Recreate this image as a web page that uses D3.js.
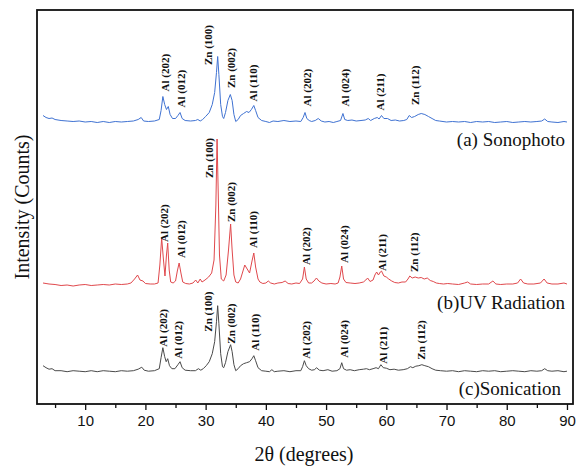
<!DOCTYPE html>
<html>
<head>
<meta charset="utf-8">
<script src="https://cdn.jsdelivr.net/npm/d3@7/dist/d3.min.js"></script>
<style>
  body { margin: 0; background: #fff; }
  svg { display: block; }
</style>
</head>
<body>
<div id="chart"></div>
<script>
// XRD patterns, 2theta in degrees, intensity in arbitrary counts above each baseline
var sonophoto = [[3.0,7],[3.5,5],[4,4],[4.5,4.5],[5,3],[6,2],[7,1.5],[8,1],[9,1.5],[10,0.5],[11,1],[12,0],[13,1],[14,0],[15,1],[16,0.5],[17,1],[18,1.5],[18.8,3],[19.3,5],[19.7,1.5],[20.5,1],[21.5,1.5],[22.3,3],[22.6,12],[22.9,26],[23.2,18],[23.5,13],[23.8,16],[24.1,8],[24.5,4],[25.0,4],[25.4,7],[25.75,10],[26.1,4],[26.6,2],[27.5,1.5],[28.3,2],[28.7,3],[29.1,1.5],[29.5,3],[30.0,6],[30.6,10],[31.1,18],[31.5,30],[31.8,50],[32.0,66],[32.2,48],[32.5,18],[32.8,6],[33.0,4],[33.3,10],[33.7,22],[34.1,28],[34.4,22],[34.7,8],[35.0,1],[35.4,3],[35.8,7],[36.3,9],[36.8,11],[37.2,10],[37.6,13],[38.0,17],[38.3,12],[38.7,5],[39.3,2],[40,1],[40.6,0],[41.2,1.5],[42,1],[43,2],[44,1],[45,1.5],[45.8,1],[46.2,5],[46.5,10],[46.8,4],[47.2,2],[47.6,1],[48.2,2],[48.7,4],[49.2,1.5],[49.8,0.5],[50.5,1],[51.2,0],[51.8,1],[52.4,2],[52.8,9],[53.1,3],[53.6,2],[54.3,2.5],[55,1.5],[55.8,2],[56.5,2.5],[57.0,4],[57.4,2],[58.0,4],[58.5,5],[58.8,3.5],[59.2,7],[59.6,4],[60.2,4],[60.8,2],[61.5,2.5],[62.2,1.5],[62.9,2],[63.4,3],[63.8,7],[64.2,5],[64.7,6],[65.3,8],[65.8,9],[66.4,8],[67.0,6],[67.6,4],[68.2,2],[68.8,1.5],[70,0.5],[71,1],[72,0.5],[73,1],[74,0],[75,1],[76,0.5],[77,1],[78,0],[79,0.5],[80,1],[81,0],[82,0.5],[83,1],[84,0.5],[85,1],[85.8,1.5],[86.3,3.5],[86.8,1],[87.5,0.5],[88.5,0],[89.5,1],[90,0.5]];

var uvRadiation = [[3.0,2],[3.5,1.5],[4,1],[5,0.5],[6,-0.5],[7,0],[8,-1],[9,0],[10,0.5],[11,-0.5],[12,0],[13,0.5],[14,0],[15,1],[16,0.5],[17,1],[17.6,2],[18.2,6],[18.7,10],[19.1,5],[19.6,4],[20.0,1.5],[20.8,1],[21.5,1],[22.1,2],[22.4,20],[22.7,47],[23.0,25],[23.25,9],[23.5,30],[23.7,42],[23.95,15],[24.2,3],[24.6,2],[25.0,4],[25.3,14],[25.6,22],[25.9,12],[26.2,3],[26.7,1.5],[27.3,1],[27.9,2],[28.35,5],[28.7,2],[29.1,6],[29.4,3],[29.9,5],[30.5,8],[31.0,12],[31.4,25],[31.7,80],[31.9,146],[32.1,90],[32.3,30],[32.6,6],[33.0,4],[33.4,10],[33.8,35],[34.15,61],[34.4,35],[34.7,10],[35.0,3],[35.4,2],[35.8,6],[36.2,14],[36.5,20],[36.9,16],[37.3,12],[37.7,24],[38.0,32],[38.3,18],[38.7,6],[39.0,3],[39.5,1.5],[40.0,2],[40.4,4],[40.8,2],[41.4,1],[42,2],[42.7,2.5],[43.2,4],[43.7,1.5],[44.3,1],[45,2],[45.6,1.5],[46.1,6],[46.4,18],[46.7,6],[47.1,2],[47.6,2],[48.0,4],[48.4,7],[48.8,4],[49.3,2],[50,1],[50.8,1.5],[51.5,1],[52.0,2],[52.3,8],[52.6,19],[52.9,6],[53.3,2.5],[54,2],[54.8,1.5],[55.5,2],[56.2,3],[56.6,5],[56.9,7],[57.3,3.5],[57.8,5],[58.1,10],[58.4,13],[58.7,10],[59.0,13],[59.2,14],[59.6,9],[60.0,8],[60.4,6],[60.9,4],[61.4,2.5],[62.0,2],[62.6,3],[63.2,3],[63.6,6],[63.9,9],[64.3,7],[64.8,8],[65.3,7],[65.8,7.5],[66.3,6],[66.8,7],[67.3,4.5],[67.8,3.5],[68.3,2],[68.8,1.5],[69.5,1],[70.2,1.5],[71,1],[72,0.5],[73,2],[73.5,3],[74,1],[75,0.5],[76,1],[77,1],[77.7,4],[78.2,1],[79,0.5],[80,1],[81,1],[81.8,2],[82.3,6],[82.8,2],[83.5,1],[84.5,1],[85.6,2],[86.2,6],[86.7,2],[87.5,1],[88.5,1],[89.5,2],[90,1]];

var sonication = [[3.0,6],[3.5,4],[4,2.5],[4.5,3],[5,1],[6,1],[7,0],[8,1],[9,0.5],[10,0],[11,1],[12,0],[13,1],[14,0.5],[15,0],[16,1],[17,0.5],[18,1],[18.8,2.5],[19.4,4.5],[19.8,1.5],[20.5,0.5],[21.5,1],[22.3,3],[22.6,14],[22.9,24],[23.2,15],[23.45,10],[23.7,13],[24.0,6],[24.4,3],[24.9,3],[25.4,7],[25.75,10],[26.1,4],[26.6,1.5],[27.5,1],[28.3,1],[28.8,3],[29.2,1.5],[29.6,3],[30.1,6],[30.6,10],[31.1,18],[31.5,30],[31.8,50],[32.0,66],[32.2,48],[32.5,18],[32.8,5],[33.0,4],[33.3,9],[33.7,20],[34.15,27],[34.4,20],[34.7,7],[35.0,1],[35.4,3],[35.8,6],[36.3,8],[36.8,9],[37.3,10],[37.7,13],[38.0,16],[38.3,11],[38.7,4],[39.3,1],[40,0.5],[40.6,0],[41,2],[41.4,0],[42,0.5],[43,1],[44,0],[45,1],[45.8,1],[46.1,5],[46.4,11],[46.7,6],[47.1,3],[47.6,1.5],[48.1,2],[48.4,4],[48.9,1.5],[49.5,1],[50.3,2],[51,0.5],[51.8,1],[52.3,3],[52.6,9],[52.9,3],[53.4,1.5],[54,2],[54.7,1],[55.5,2],[56.2,2.5],[56.7,3],[57.2,2],[57.8,3],[58.3,4],[58.7,3],[59.1,7],[59.5,4],[60,3.5],[60.6,2],[61.3,2.5],[62,1.5],[62.8,2],[63.5,3],[64.0,5],[64.4,4],[64.9,5.5],[65.4,6],[65.9,7],[66.4,6],[67,5],[67.6,3],[68.2,1.5],[69,1],[70,0.5],[71,1],[72,0],[73,1],[74,0.5],[75,0],[76,1],[77,0.5],[78,1],[79,0],[80,0.5],[81,1],[82,0.5],[83,0],[84,1],[85,0.5],[85.8,1],[86.3,3],[86.8,1],[87.5,0.5],[88.5,1],[89.5,0],[90,0.5]];

// vertical offset of each pattern (same units as intensity)
var offsets = [281.5, 119, 32.3];
var seriesNames = ["(a) Sonophoto", "(b)UV Radiation", "(c)Sonication"];

// peak labels: [text, 2theta, height above baseline where the label starts]
var peakLabelsA = [["Al (202)",23.25,31],["Al (012)",26.0,15],["Zn (100)",30.45,57.5],["Zn (002)",34.3,34.5],["Al (110)",38.0,21],["Al (202)",46.9,16],["Al (024)",53.15,16],["Al (211)",58.95,12],["Zn (112)",64.75,17.5]];
var peakLabelsB = [["Al (202)",23.15,43],["Al (012)",26.0,27],["Zn (100)",30.6,107],["Zn (002)",34.3,63],["Al (110)",38.0,37],["Al (202)",46.8,20],["Al (024)",53.0,22],["Al (211)",59.4,14],["Zn (112)",64.6,13]];
var peakLabelsC = [["Al (202)",23.0,25],["Al (012)",25.45,13],["Zn (100)",30.45,40],["Zn (002)",34.3,28],["Al (110)",38.2,21],["Al (202)",46.8,13],["Al (024)",53.0,14],["Al (211)",59.5,8],["Zn (112)",65.75,12]];

var majorTicks = [10,20,30,40,50,60,70,80,90];
var minorTicks = [5,15,25,35,45,55,65,75,85];

var W = 578, H = 466;
var mLeft = 37, mRight = 573, mTop = 10, mBottom = 404;
var serif = "'Liberation Serif','Times New Roman',serif";
var sans = "'Liberation Sans',Arial,sans-serif";

var svg = d3.select("#chart").append("svg")
    .attr("width", W)
    .attr("height", H);

var x = d3.scaleLinear().domain([2, 91]).range([mLeft, mRight]);
var y = d3.scaleLinear().domain([0, 394]).range([mBottom, mTop]);

var allSeries = [sonophoto, uvRadiation, sonication];
var colors = ["#3f72d2", "#e0484c", "#4a4a4a"];
var allLabels = [peakLabelsA, peakLabelsB, peakLabelsC];

allSeries.forEach(function(s, i) {
    var line = d3.line()
        .x(function(d) { return x(d[0]); })
        .y(function(d) { return y(d[1] + offsets[i]); });
    svg.append("path")
        .datum(s)
        .attr("fill", "none")
        .attr("stroke", colors[i])
        .attr("stroke-width", 1)
        .attr("stroke-linejoin", "round")
        .attr("d", line);

    // rotated peak labels
    svg.selectAll(".peak" + i)
        .data(allLabels[i])
        .enter().append("text")
        .attr("class", "peak" + i)
        .attr("transform", function(d) {
            return "translate(" + x(d[1]) + "," + y(d[2] + offsets[i]) + ") rotate(-90)";
        })
        .attr("dy", "0.33em")
        .attr("font-family", serif)
        .attr("font-weight", "bold")
        .attr("font-size", 11)
        .attr("fill", "#111")
        .text(function(d) { return d[0]; });
});

// series names at right
var nameY = [145.5, 308.5, 395];
var nameX = [565, 565, 561];
svg.selectAll(".sname")
    .data(seriesNames)
    .enter().append("text")
    .attr("class", "sname")
    .attr("x", function(d, i) { return nameX[i]; })
    .attr("y", function(d, i) { return nameY[i]; })
    .attr("text-anchor", "end")
    .attr("font-family", serif)
    .attr("font-size", 19)
    .attr("fill", "#111")
    .text(function(d) { return d; });

// x axis, major and minor ticks
var xAxis = svg.append("g")
    .attr("transform", "translate(0," + mBottom + ")")
    .call(d3.axisBottom(x).tickValues(majorTicks).tickSize(6).tickPadding(5));
xAxis.select(".domain").remove();
xAxis.selectAll("line").attr("stroke", "#111").attr("stroke-width", 1.3);
xAxis.selectAll("text")
    .attr("font-family", sans)
    .attr("font-size", 15)
    .attr("fill", "#111");

var xMinor = svg.append("g")
    .attr("transform", "translate(0," + mBottom + ")")
    .call(d3.axisBottom(x).tickValues(minorTicks).tickSize(4).tickFormat(""));
xMinor.select(".domain").remove();
xMinor.selectAll("line").attr("stroke", "#111").attr("stroke-width", 1.3);

// frame
svg.append("rect")
    .attr("x", mLeft)
    .attr("y", mTop)
    .attr("width", mRight - mLeft)
    .attr("height", mBottom - mTop)
    .attr("fill", "none")
    .attr("stroke", "#111")
    .attr("stroke-width", 1.8);

// axis titles
svg.append("text")
    .attr("x", 304)
    .attr("y", 461)
    .attr("text-anchor", "middle")
    .attr("font-family", serif)
    .attr("font-size", 20)
    .attr("fill", "#111")
    .text("2\u03b8 (degrees)");

svg.append("text")
    .attr("transform", "translate(29,207) rotate(-90)")
    .attr("text-anchor", "middle")
    .attr("font-family", serif)
    .attr("font-size", 20)
    .attr("fill", "#111")
    .text("Intensity (Counts)");
</script>
</body>
</html>
